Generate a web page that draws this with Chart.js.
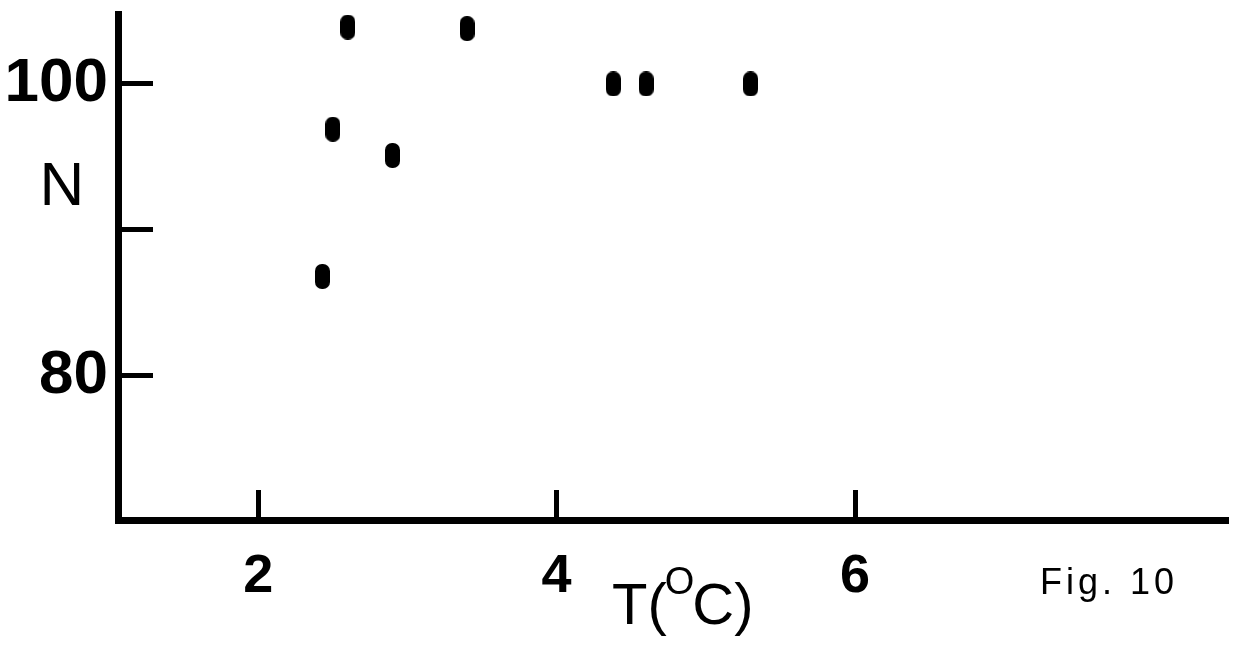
<!DOCTYPE html>
<html>
<head>
<meta charset="utf-8">
<script src="https://cdn.jsdelivr.net/npm/chart.js@4.4.1/dist/chart.umd.min.js"></script>
<style>
  html, body { margin: 0; padding: 0; background: #fff; }
  #wrap { width: 1235px; height: 646px; }
</style>
</head>
<body>
<div id="wrap"><canvas id="fig" width="1235" height="646"></canvas></div>
<script>
// Temperature (deg C) against N
const tempValues = [2.6, 3.4, 2.5, 2.9, 2.43, 4.38, 4.6, 5.3];
const nValues = [103.9, 103.8, 96.9, 95.1, 86.8, 100, 100, 100];

const xTicks = [2, 4, 6];
const yTicks = [80, 90, 100];
const yTickLabels = ['80', '', '100'];

const yTitle = 'N';
const xTitleParts = ['T(', 'O', 'C)'];
const figLabel = 'Fig. 10';

// elongated blob used for every point
function makeBlob() {
    const c = document.createElement('canvas');
    c.width = 15;
    c.height = 25;
    const g = c.getContext('2d');
    g.fillStyle = '#000';
    g.beginPath();
    g.roundRect(0, 0, 15, 25, 7);
    g.fill();
    return c;
}

const whiteBg = {
    id: 'whiteBg',
    beforeDraw(chart) {
        const c = chart.ctx;
        c.save();
        c.fillStyle = '#fff';
        c.fillRect(0, 0, chart.width, chart.height);
        c.restore();
    }
};

// axis names and figure caption
const captions = {
    id: 'captions',
    afterDraw(chart) {
        const c = chart.ctx;
        c.save();
        c.fillStyle = '#000';
        c.textBaseline = 'alphabetic';

        c.font = '62px "Liberation Sans", Arial, sans-serif';
        c.textAlign = 'center';
        c.fillText(yTitle, 62, 205);

        c.textAlign = 'left';
        let x = 612;
        c.font = '300 58px "Liberation Sans", Arial, sans-serif';
        c.fillText(xTitleParts[0], x, 624);
        x += c.measureText(xTitleParts[0]).width;
        c.font = '300 38px "Liberation Sans", Arial, sans-serif';
        c.fillText(xTitleParts[1], x - 2, 594);
        x += c.measureText(xTitleParts[1]).width - 4;
        c.font = '300 58px "Liberation Sans", Arial, sans-serif';
        c.fillText(xTitleParts[2], x, 624);

        c.font = '36px "Liberation Sans", Arial, sans-serif';
        c.letterSpacing = '4px';
        c.fillText(figLabel, 1040, 594);
        c.restore();
    }
};

new Chart(document.getElementById('fig'), {
    type: 'scatter',
    data: {
        datasets: [{
            data: tempValues.map((t, i) => ({ x: t, y: nValues[i] })),
            pointStyle: makeBlob(),
            backgroundColor: '#000',
            borderColor: '#000',
            clip: false
        }]
    },
    options: {
        responsive: false,
        devicePixelRatio: 1,
        animation: false,
        layout: { padding: { top: 14, right: 7, left: 0, bottom: 0 } },
        plugins: {
            legend: { display: false },
            tooltip: { enabled: false }
        },
        scales: {
            x: {
                type: 'linear',
                min: 1.06,
                max: 8.5,
                afterBuildTicks: s => { s.ticks = xTicks.map(v => ({ value: v })); },
                afterFit: s => {
                    s.height = 126;
                    s.paddingLeft = 0;
                    s.paddingRight = 0;
                },
                border: { display: true, color: '#000', width: 7 },
                grid: {
                    drawOnChartArea: false,
                    drawTicks: true,
                    tickLength: -30,
                    tickWidth: 5,
                    tickColor: '#000'
                },
                ticks: {
                    color: '#000',
                    padding: 55,
                    maxRotation: 0,
                    font: { family: '"Liberation Sans", Arial, sans-serif', size: 54, weight: 'bold' }
                }
            },
            y: {
                type: 'linear',
                min: 70.1,
                max: 104.8,
                afterBuildTicks: s => { s.ticks = yTicks.map(v => ({ value: v })); },
                afterFit: s => {
                    s.width = 118;
                    s.paddingTop = 0;
                    s.paddingBottom = 0;
                },
                border: { display: true, color: '#000', width: 7 },
                grid: {
                    drawOnChartArea: false,
                    drawTicks: true,
                    tickLength: -35,
                    tickWidth: 5,
                    tickColor: '#000'
                },
                ticks: {
                    color: '#000',
                    padding: 45,
                    callback: v => yTickLabels[yTicks.indexOf(v)],
                    font: { family: '"Liberation Sans", Arial, sans-serif', size: 62, weight: 'bold' }
                }
            }
        }
    },
    plugins: [whiteBg, captions]
});
</script>
</body>
</html>
